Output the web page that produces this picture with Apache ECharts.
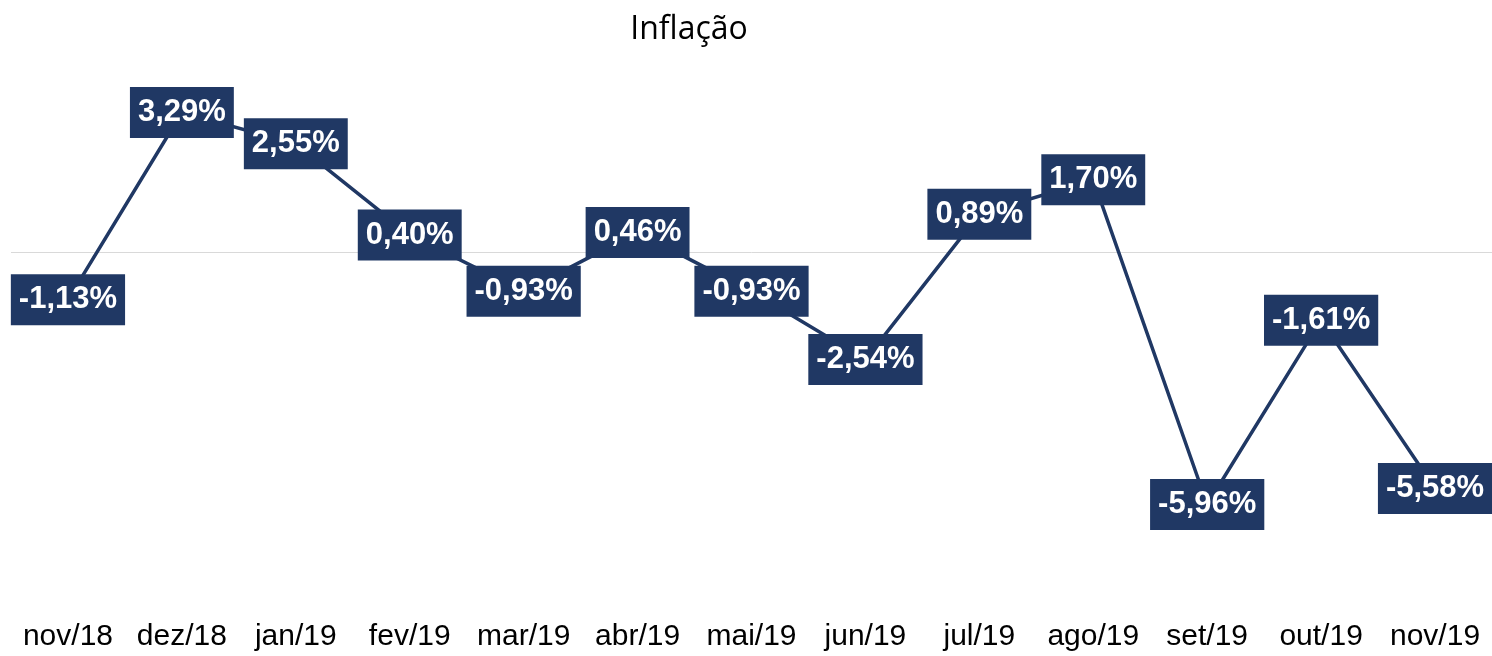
<!DOCTYPE html>
<html>
<head>
<meta charset="utf-8">
<script src="https://cdn.jsdelivr.net/npm/echarts@6/dist/echarts.min.js"></script>
<style>
  html, body { margin: 0; padding: 0; background: #ffffff; }
  #chart { width: 1492px; height: 656px; }
</style>
</head>
<body>
<div id="chart"></div>
<script>
// Monthly inflation, in percent
const months = ['nov/18', 'dez/18', 'jan/19', 'fev/19', 'mar/19', 'abr/19', 'mai/19',
                'jun/19', 'jul/19', 'ago/19', 'set/19', 'out/19', 'nov/19'];
const inflation = [-1.13, 3.29, 2.55, 0.40, -0.93, 0.46, -0.93,
                   -2.54, 0.89, 1.70, -5.96, -1.61, -5.58];

const navy = '#203864';
const sans = '"Liberation Sans", Arial, sans-serif';

const chart = echarts.init(document.getElementById('chart'));
chart.setOption({
  animation: false,
  backgroundColor: '#ffffff',
  title: {
    text: 'Inflação',
    left: 684,
    top: 9,
    textAlign: 'center',
    textStyle: { fontFamily: '"Open Sans", sans-serif', fontSize: 32, fontWeight: 'normal', color: '#000000' }
  },
  grid: { left: 11, right: 0, top: 40, bottom: 65 },
  xAxis: {
    type: 'category',
    data: months,
    boundaryGap: true,
    axisLine: { show: false },
    axisTick: { show: false },
    axisLabel: { interval: 0, fontFamily: sans, fontSize: 30, color: '#000000', margin: 31 }
  },
  yAxis: {
    type: 'value',
    min: -8,
    max: 5,
    show: false,
    splitLine: { show: false }
  },
  series: [{
    type: 'line',
    data: inflation,
    symbol: 'circle',
    symbolSize: 2,
    showSymbol: true,
    showAllSymbol: true,
    itemStyle: { color: navy },
    lineStyle: { color: navy, width: 3.5 },
    label: {
      show: true,
      position: 'inside',
      formatter: p => p.value.toFixed(2).replace('.', ',') + '%',
      fontFamily: sans,
      fontWeight: 'bold',
      fontSize: 31,
      lineHeight: 35,
      color: '#ffffff',
      backgroundColor: navy,
      padding: [8, 8, 8, 8]
    },
    labelLayout: { hideOverlap: false },
    markLine: {
      silent: true,
      symbol: 'none',
      label: { show: false },
      lineStyle: { color: '#d9d9d9', width: 1, type: 'solid' },
      data: [{ yAxis: 0 }],
      z: 1
    },
    z: 3
  }]
});
</script>
</body>
</html>
